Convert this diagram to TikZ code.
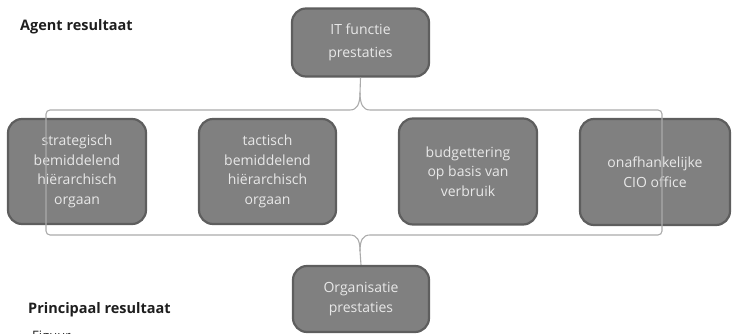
\documentclass[tikz,border=0pt]{standalone}
\usepackage{fontspec}
\setmainfont{Open Sans}
\definecolor{boxfill}{HTML}{808080}
\definecolor{boxline}{HTML}{5E5E5E}
\definecolor{boxtext}{HTML}{E8E8E8}
\definecolor{braceline}{HTML}{ABABAB}
\definecolor{lbltext}{HTML}{1E1E1E}
\begin{document}
\begin{tikzpicture}[x=1pt,y=-1pt,
  box/.style={draw=boxline, line width=2.2pt, fill=boxfill, rounded corners=14pt,
    text=boxtext, align=center, font=\fontsize{14}{19.5}\selectfont, inner sep=0pt},
  lbl/.style={font=\bfseries\fontsize{14.5}{17}\selectfont, text=lbltext, anchor=base west, inner sep=0pt},
  brace/.style={draw=braceline, line width=1.1pt}]
\useasboundingbox (0,0) rectangle (733,334);
\clip (0,0) rectangle (733,334);

\node[lbl] (agent) at (20,31) {Agent resultaat};
\node[lbl] (princ) at (28,313) {Principaal resultaat};
\node[anchor=base west, inner sep=0pt, font=\fontsize{13}{15}\selectfont, text=lbltext] (fig) at (32,340) {Figuur};

\node[box, minimum width=137pt, minimum height=68pt, font=\fontsize{14}{23}\selectfont] (top) at (360.5,42.5) {IT functie\\prestaties};
\node[box, minimum width=136pt, minimum height=66pt] (bot) at (361,299) {Organisatie\\prestaties};

\node[box, minimum width=138pt, minimum height=105pt] (s1) at (77,171.5) {strategisch\\bemiddelend\\hiërarchisch\\orgaan};
\node[box, minimum width=137pt, minimum height=105pt] (s2) at (267.5,171.5) {tactisch\\bemiddelend\\hiërarchisch\\orgaan};
\node[box, minimum width=138pt, minimum height=106pt] (s3) at (468,171.5) {budgettering\\op basis van\\verbruik};
\node[box, minimum width=150pt, minimum height=106pt] (s4) at (655,172) {onafhankelijke\\CIO office};

\coordinate (lmid) at (46,172);
\coordinate (rmid) at (662,172);
\coordinate (tv) at (360,93);
\coordinate (bv) at (360,251);

\draw[brace] (top.south) -- (tv) .. controls (360,104) and (357,110) .. (350,110) [rounded corners=4pt] -- (46,110) -- (lmid);
\draw[brace] (tv) .. controls (360,104) and (363,110) .. (370,110) [rounded corners=4pt] -- (662,110) -- (rmid);
\draw[brace] (bot.north) -- (bv) .. controls (360,240) and (357,235) .. (350,235) [rounded corners=4pt] -- (46,235) -- (lmid);
\draw[brace] (bv) .. controls (360,240) and (363,235) .. (370,235) [rounded corners=4pt] -- (662,235) -- (rmid);
\end{tikzpicture}
\end{document}
